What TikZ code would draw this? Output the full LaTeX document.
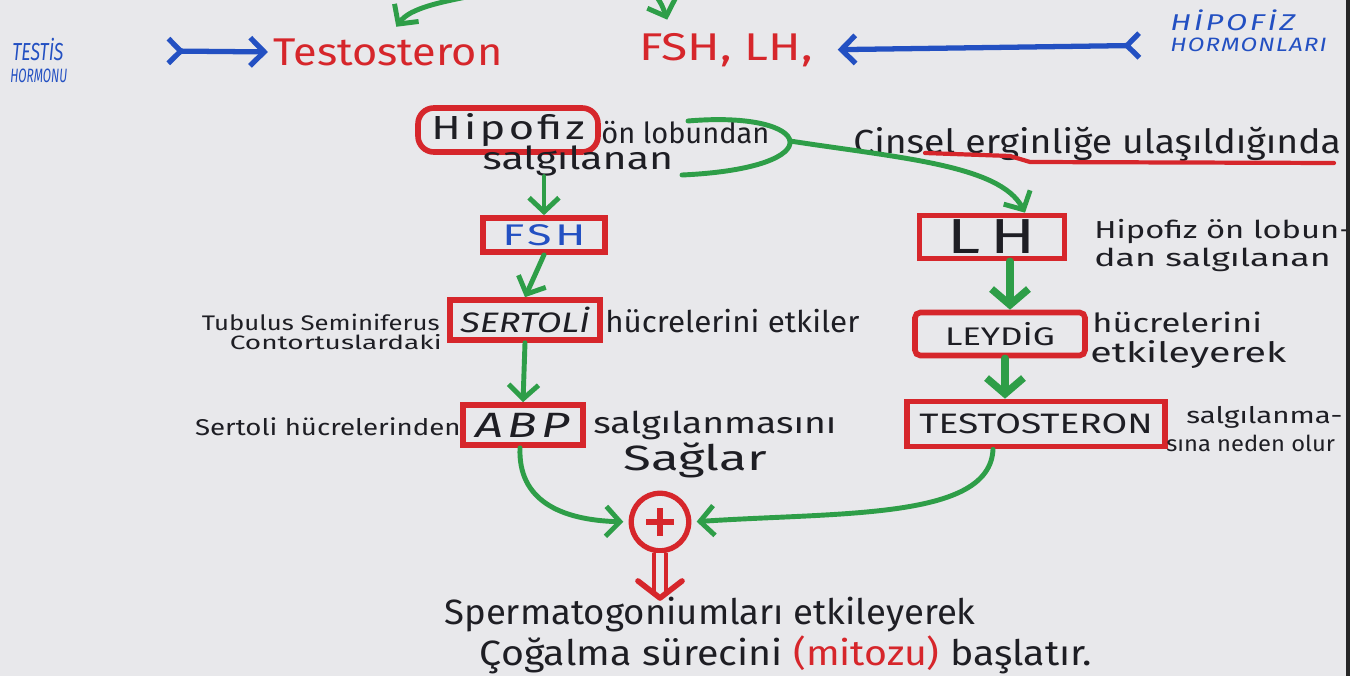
\documentclass[tikz,border=0pt]{standalone}
\usepackage{fontspec}
\setmainfont{Fira Sans}
\usetikzlibrary{arrows.meta,calc}
\definecolor{paper}{HTML}{E8E8EB}
\definecolor{mred}{HTML}{D6262B}
\definecolor{mgreen}{HTML}{2E9E48}
\definecolor{mblue}{HTML}{2350C2}
\definecolor{inkc}{HTML}{1E1E24}
\newcommand\fsz[1]{\fontsize{#1}{#1}\selectfont}
\newcommand\fst[1]{\addfontfeature{FakeStretch=#1}}
\newcommand\fstl[2]{\addfontfeatures{FakeStretch=#1,LetterSpace=#2}}
\begin{document}
\begin{tikzpicture}[x=0.02cm,y=-0.02cm,
  ink/.style={inner sep=0pt, text=inkc},
  bluelbl/.style={inner sep=0pt, text=mblue, anchor=west},
  redbox/.style={draw=mred, line width=3.2pt, inner sep=0pt, text=inkc},
  garrow/.style={draw=mgreen, line width=2.8pt, line cap=round, -{Straight Barb[length=8pt,width=17pt]}},
  gfat/.style={draw=mgreen, line width=4.2pt, line cap=round, -{Straight Barb[length=9pt,width=21pt]}},
  barrow/.style={draw=mblue, line width=3pt, line cap=round, {Straight Barb[reversed,length=7pt,width=14pt]}-{Straight Barb[length=8pt,width=16pt]}},
]
\useasboundingbox (0,0) rectangle (1350,676);
\fill[paper] (0,0) rectangle (1350,676);
\begin{scope}
\clip (0,0) rectangle (1350,676);

% ---------- top row ----------
\node[bluelbl, font=\itshape\fsz{14pt}\fst{0.72}] (testis) at (12,50) {TESTİS};
\node[bluelbl, font=\itshape\fsz{11pt}\fst{0.62}] (hormonu) at (10,76) {HORMONU};
\node[ink, text=mred, font=\fsz{22pt}\fst{1.12}] (testo) at (388,52) {Testosteron};
\node[ink, text=mred, font=\fsz{22pt}\fst{1.24}] (fshlh) at (726,50) {FSH, LH,};
\node[bluelbl, font=\itshape\fsz{13pt}\fstl{1.35}{12}] (hipo) at (1170,20) {HİPOFİZ};
\node[bluelbl, font=\itshape\fsz{11pt}\fstl{1.25}{6}] (hormonlari) at (1170,45) {HORMONLARI};

\draw[barrow, shorten <=58pt, shorten >=3pt] (testis.east) -- (testo.west);
\draw[barrow, shorten <=16pt, shorten >=14pt] (hormonlari.west) -- (fshlh.east);

\coordinate (top1) at (482,-6);
\coordinate (top2) at (655,-6);
\draw[garrow, shorten >=8pt] (top1) .. controls (440,2) and (410,8) .. (testo.north);
\draw[garrow, shorten >=8pt] (top2) .. controls (662,5) .. (fshlh.north -| 672,0);

% ---------- left column ----------
\node[redbox, rounded corners=9pt, minimum width=3.6cm, minimum height=0.88cm, font=\fsz{19pt}\fstl{1.3}{10}] (hipbox) at (508,130) {Hipofiz};
\node[ink, anchor=west, font=\fsz{16.5pt}] (onlob) at (601,133) {ön lobundan};
\node[ink, font=\fsz{18pt}\fst{1.3}] (salg) at (578,161) {salgılanan};

\coordinate (brtop) at (688,121);
\coordinate (brbot) at (682,175);
\coordinate (brmid) at (790,141);
\draw[mgreen, line width=2.8pt, line cap=round] (brtop) .. controls (815,110) and (835,168) .. (brbot);

\node[redbox, minimum width=2.44cm, minimum height=0.68cm, text=mblue, font=\fsz{17pt}\fstl{1.5}{12}] (fsh) at (544,235) {FSH};
\node[redbox, minimum width=3.0cm, minimum height=0.8cm, font=\itshape\fsz{16pt}\fst{1.28}] (sert) at (525,320) {SERTOLİ};
\node[redbox, minimum width=2.4cm, minimum height=0.8cm, font=\itshape\fsz{20pt}\fstl{1.4}{12}] (abp) at (523,425) {ABP};

\node[ink, anchor=east, font=\fsz{12pt}\fst{1.22}] (tub1) at (440,322) {Tubulus Seminiferus};
\node[ink, anchor=east, font=\fsz{11pt}\fst{1.45}] (tub2) at (442,342) {Contortuslardaki};
\node[ink, anchor=west, font=\fsz{17pt}\fst{1.05}] (hucet) at (605,321) {hücrelerini etkiler};
\node[ink, anchor=east, font=\fsz{13pt}\fst{1.21}] (sertfrom) at (461,427) {Sertoli hücrelerinden};
\node[ink, anchor=west, font=\fsz{17pt}\fst{1.25}] (salgm) at (593,425) {salgılanmasını};
\node[ink, font=\fsz{20pt}\fst{1.45}] (saglar) at (695,460) {Sağlar};

\draw[garrow] (fsh.north |- salg.south) -- (fsh.north);
\draw[garrow] (fsh.south) -- (sert.north);
\draw[garrow] (sert.south) -- (abp.north);

% ---------- right column ----------
\node[ink, anchor=west, font=\fsz{19pt}\fst{1.12}] (cinsel) at (853,144) {Cinsel erginliğe ulaşıldığında};
\draw[mred, line width=2.4pt, line cap=round] (925,153) -- (1010,156) -- (1030,162) -- (1334,163);

\node[redbox, minimum width=2.9cm, minimum height=0.86cm, font=\fsz{28pt}\fstl{1.35}{20}] (lh) at (992,237) {LH};
\node[redbox, rounded corners=3pt, minimum width=3.4cm, minimum height=0.86cm, font=\fsz{14.5pt}\fst{1.37}] (leydig) at (1000,334) {LEYDİG};
\node[redbox, minimum width=5.16cm, minimum height=0.9cm, font=\fsz{16pt}\fst{1.32}] (testbox) at (1036,424) {TESTOSTERON};

\node[ink, anchor=west, font=\fsz{14pt}\fst{1.33}] (hon1) at (1094,232) {Hipofiz ön lobun-};
\node[ink, anchor=west, font=\fsz{14pt}\fst{1.45}] (hon2) at (1094,260) {dan salgılanan};
\node[ink, anchor=west, font=\fsz{15pt}\fst{1.31}] (huc2) at (1092,322) {hücrelerini};
\node[ink, anchor=west, font=\fsz{16pt}\fst{1.4}] (etk2) at (1090,355) {etkileyerek};
\node[ink, anchor=west, font=\fsz{13pt}\fst{1.29}] (salg3) at (1186,417) {salgılanma-};
\node[ink, anchor=west, font=\fsz{12.5pt}\fst{1.08}] (neden) at (1166,443) {sına neden olur};

\draw[garrow] (brmid) .. controls (900,158) and (1000,165) .. (lh.north -| 1025,0);
\draw[gfat] (lh.south -| 1010,0) -- (leydig.north -| 1010,0);
\draw[gfat] (leydig.south -| 1005,0) -- (testbox.north -| 1005,0);

% ---------- bottom ----------
\node[draw=mred, line width=3pt, circle, minimum size=1.15cm, inner sep=0pt] (plus) at (660,522) {};
\draw[mred, line width=3.6pt] ($(plus.center)+(-14,0)$) -- ($(plus.center)+(14,0)$);
\draw[mred, line width=3.6pt] ($(plus.center)+(0,-14)$) -- ($(plus.center)+(0,14)$);

\draw[garrow, shorten >=3pt] (abp.south -| 520,0) .. controls (518,500) and (560,520) .. (plus.west);
\draw[garrow, shorten >=3pt] (testbox.south -| 993,0) .. controls (990,520) and (840,512) .. (plus.east);

\node[ink, font=\fsz{20pt}\fst{1.04}] (sperm1) at (710,615) {Spermatogoniumları etkileyerek};
\node[ink, font=\fsz{20pt}\fst{1.12}] (sperm2) at (786,655) {Çoğalma sürecini \textcolor{mred}{(mitozu)} başlatır.};

\coordinate (dtip) at (660,598);
\draw[mred, line width=2.6pt, double=paper, double distance=4pt, shorten >=4pt] (plus.south) -- (dtip);
\draw[mred, line width=3.2pt, line cap=round, line join=round] ($(dtip)+(-22,-17)$) -- (dtip) -- ($(dtip)+(22,-17)$);

\end{scope}
\fill[black!85] (1346,0) rectangle (1350,676);
\end{tikzpicture}
\end{document}
